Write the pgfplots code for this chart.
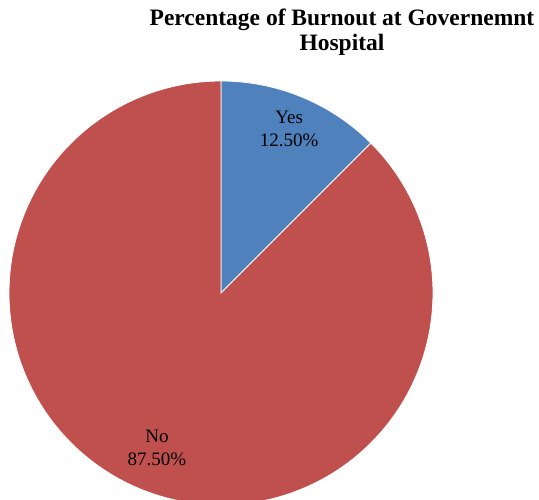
\documentclass[border=0pt]{standalone}
\usepackage{fontspec}
\setmainfont{Liberation Serif}
\usepackage{pgfplots}
\usepackage{pgfplotstable}
\pgfplotsset{compat=1.18}
\definecolor{pieblue}{HTML}{4F81BD}
\definecolor{piered}{HTML}{C0504D}
\pgfplotstableread{
label value
Yes 12.5
No 87.5
}\piedata
\begin{document}
\begin{tikzpicture}
\pgfplotstablegetelem{0}{value}\of\piedata \let\vyes\pgfplotsretval
\pgfplotstablegetelem{1}{value}\of\piedata \let\vno\pgfplotsretval
\pgfmathsetmacro{\aA}{90}
\pgfmathsetmacro{\aB}{90-3.6*\vyes}
\pgfmathsetmacro{\aC}{\aB-3.6*\vno}
\pgfmathsetmacro{\mYes}{(\aA+\aB)/2}
\pgfmathsetmacro{\mNo}{(\aB+\aC)/2}
\def\R{212}
\path[use as bounding box] (0,0) rectangle (539pt,500pt);
\begin{axis}[
  at={(0,0)}, anchor=south west,
  scale only axis, width=539pt, height=500pt,
  xmin=-221, xmax=318, ymin=-207, ymax=293,
  hide axis, clip=true,
]
\addplot[fill=pieblue, draw=white, line width=0.8pt, domain=\aB:\aA, samples=80, variable=\t]
  ({\R*cos(\t)},{\R*sin(\t)}) -- (0,0) -- cycle;
\addplot[fill=piered, draw=white, line width=0.8pt, domain=\aC:\aB, samples=300, variable=\t]
  ({\R*cos(\t)},{\R*sin(\t)}) -- (0,0) -- cycle;
\node[align=center, font=\fontsize{19}{23}\selectfont, inner sep=0pt] at ({0.84*\R*cos(\mYes)},{0.84*\R*sin(\mYes)}) {Yes\\12.50\%};
\node[align=center, font=\fontsize{19}{23}\selectfont, inner sep=0pt] at ({0.79*\R*cos(\mNo)},{0.79*\R*sin(\mNo)}) {No\\87.50\%};
\node[align=center, font=\fontsize{23.5}{25}\selectfont\bfseries, inner sep=0pt] at (121,261) {Percentage of Burnout at Governemnt\\Hospital};
\end{axis}
\end{tikzpicture}
\end{document}
